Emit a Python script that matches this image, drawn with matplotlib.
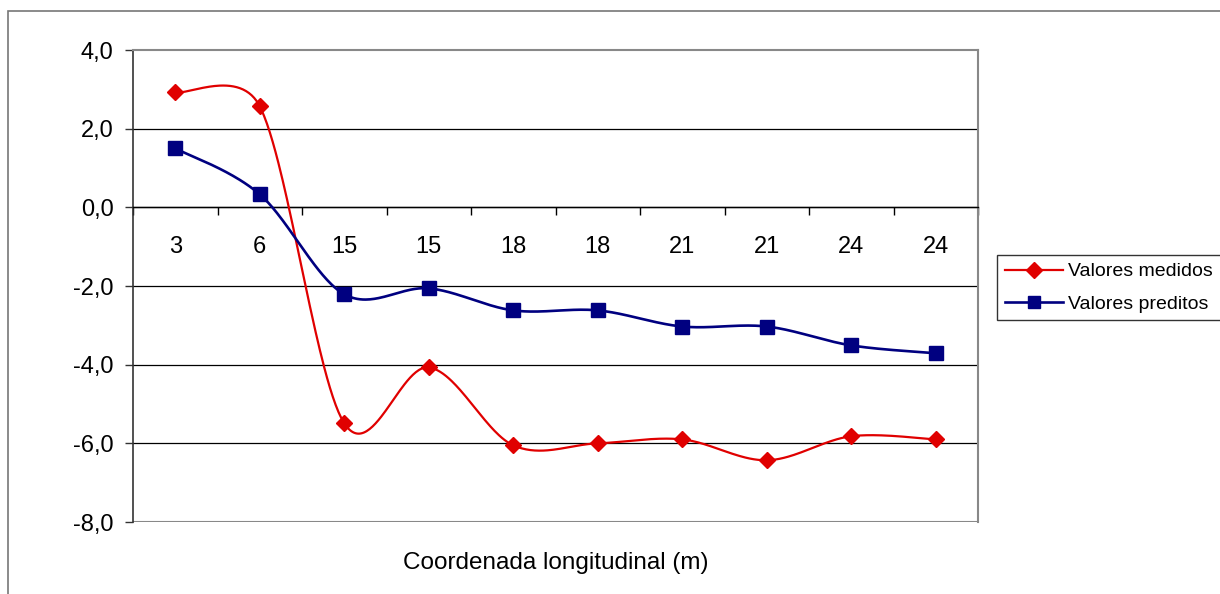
import numpy as np
import matplotlib
matplotlib.use("Agg")
import matplotlib.pyplot as plt
from matplotlib.lines import Line2D
from matplotlib.patches import Rectangle

plt.rcParams['font.family'] = ['Liberation Sans', 'DejaVu Sans']

categories = ["3", "6", "15", "15", "18", "18", "21", "21", "24", "24"]
medidos = [2.92, 2.57, -5.49, -4.07, -6.05, -6.00, -5.90, -6.43, -5.82, -5.90]
preditos = [1.50, 0.33, -2.21, -2.06, -2.62, -2.62, -3.03, -3.03, -3.51, -3.71]
yticks = [-8, -6, -4, -2, 0, 2, 4]

# pixel scale of one unit (used only for shaping the smoothed curve)
SX, SY = 84.5, 39.33


def smooth(x, y, n=60):
    P = np.column_stack([np.asarray(x, float) * SX, np.asarray(y, float) * SY])
    out = [P[0]]
    for i in range(len(P) - 1):
        p0 = P[i - 1] if i > 0 else P[i]
        p1 = P[i]
        p2 = P[i + 1]
        p3 = P[i + 2] if i + 2 < len(P) else P[i + 1]
        seg_len = np.linalg.norm(p2 - p1)
        t1 = (p2 - p0) / 6.0
        t2 = (p3 - p1) / 6.0
        lim = 0.5 * seg_len
        n1 = np.linalg.norm(t1)
        n2 = np.linalg.norm(t2)
        if n1 > lim:
            t1 = t1 * lim / n1
        if n2 > lim:
            t2 = t2 * lim / n2
        c1 = p1 + t1
        c2 = p2 - t2
        t = np.linspace(0, 1, n)[1:, None]
        seg = ((1 - t) ** 3) * p1 + 3 * ((1 - t) ** 2) * t * c1 + 3 * (1 - t) * t ** 2 * c2 + t ** 3 * p2
        out.extend(seg)
    out = np.array(out)
    return out[:, 0] / SX, out[:, 1] / SY


fig = plt.figure(figsize=(12.2, 5.94), dpi=100)
ax = fig.add_axes([133 / 1220, 1 - 522 / 594, (978 - 133) / 1220, (522 - 50) / 594])

xi = np.arange(len(categories))
red = '#E00000'
blue = '#000080'

sx, sy = smooth(xi, medidos)
ax.plot(sx, sy, color=red, lw=1.6, zorder=4)
ax.plot(xi, medidos, linestyle='none', marker='D', ms=8, color=red, zorder=5)
bx, by = smooth(xi, preditos)
ax.plot(bx, by, color=blue, lw=1.9, zorder=4)
ax.plot(xi, preditos, linestyle='none', marker='s', ms=9.5, color=blue, zorder=5)

ax.set_xlim(-0.5, len(categories) - 0.5)
ax.set_ylim(-8, 4)

for v in yticks:
    if v not in (-8, 4):
        ax.axhline(v, color='black', lw=0.9, zorder=1)

for s in ['top', 'right']:
    ax.spines[s].set_color('#888888')
    ax.spines[s].set_linewidth(1.5)
ax.spines['left'].set_color('#333333')
ax.spines['left'].set_linewidth(1.2)
ax.axhline(-8, color='#888888', lw=1.5, zorder=1)

ax.set_yticks(yticks)
ax.set_yticklabels([f"{v:.1f}".replace('.', ',') for v in yticks])
ax.tick_params(axis='y', direction='out', length=6, width=1, color='#333333',
               pad=8, labelsize=17)

ax.set_xticks(np.arange(-0.5, len(categories), 1.0))
ax.set_xticklabels([])
ax.set_xticks(xi, minor=True)
ax.set_xticklabels(categories, minor=True)
ax.tick_params(axis='x', which='major', direction='out', length=6, width=1, color='black')
ax.tick_params(axis='x', which='minor', length=0, pad=20.5, labelsize=17)
ax.spines['bottom'].set_position(('data', 0))
ax.spines['bottom'].set_color('black')
ax.spines['bottom'].set_linewidth(1.0)

fig.text((133 + 978) / 2 / 1220, 1 - 563 / 594, "Coordenada longitudinal (m)",
         ha='center', va='center', fontsize=17.5)

handles = [Line2D([], [], color=red, lw=1.6, marker='D', ms=8),
           Line2D([], [], color=blue, lw=1.9, marker='s', ms=9)]
leg = fig.legend(handles, ["Valores medidos", "Valores preditos"],
                 loc='upper left', bbox_to_anchor=(997 / 1220, 1 - 255 / 594),
                 fontsize=14, frameon=True, fancybox=False, edgecolor='black',
                 borderpad=0.4, handlelength=3.0, handletextpad=0.25, labelspacing=0.75,
                 borderaxespad=0)
leg.get_frame().set_linewidth(1.0)

fig.patches.append(Rectangle((8 / 1220, -0.1), 1.2, (1 - 11 / 594) + 0.1,
                             transform=fig.transFigure, fill=False,
                             edgecolor='#777777', lw=1.2))

fig.savefig('out.png', dpi=100)
